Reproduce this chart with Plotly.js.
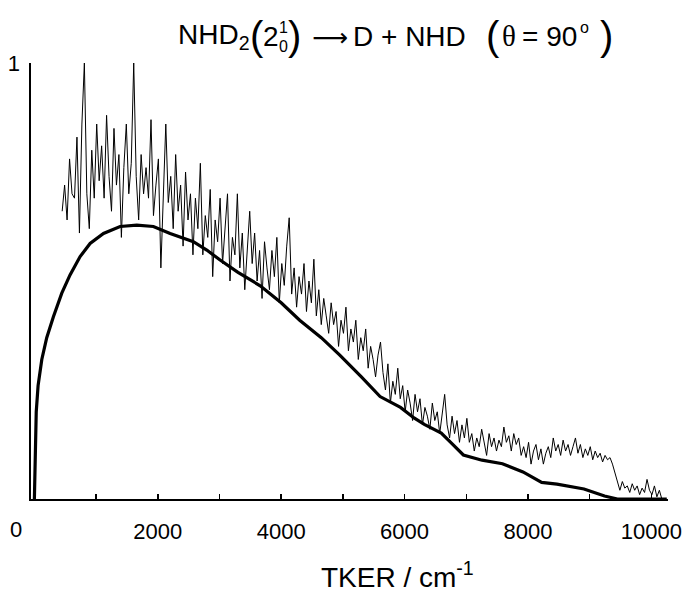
<!DOCTYPE html>
<html><head><meta charset="utf-8">
<script src="https://cdn.plot.ly/plotly-3.0.1.min.js"></script>
<style>html,body{margin:0;padding:0;background:#fff;}#chart{width:686px;height:593px;}</style>
</head><body><div id="chart"></div>
<script>
// Experimental TKER spectrum (noisy trace)
const signalEnergy = [450,490,530,570,610,650,690,730,770,810,850,890,930,970,1010,1050,1090,
1130,1170,1210,1250,1290,1330,1370,1410,1450,1490,1530,1570,1610,1650,1690,1730,1770,
1810,1850,1890,1930,1970,2010,2050,2090,2130,2170,2210,2250,2290,2330,2370,2410,2450,2490,2530,2570,2610,
2650,2690,2730,2770,2810,2850,2890,2930,2970,3010,3050,3090,3130,3170,3210,3250,3290,3330,3370,3410,3450,3490,
3530,3570,3610,3650,3690,3730,3770,3810,3850,3890,3930,3970,4010,4050,4090,4130,4170,4210,4250,4290,4330,4370,4410,4450,4490,
4530,4570,4610,4650,4690,4730,4770,4810,4850,4890,4930,4970,5010,5050,5090,5130,5170,5210,5250,5290,5330,5370,5410,5450,5490,5530,5570,5610,
5650,5690,5730,5770,5810,5850,5890,5930,5970,6010,6050,6090,6130,6170,6210,6250,6290,6330,6370,6410,6450,6490,6530,6570,6610,6650,6690,6730,6770,6810,6850,6890,6930,6970,7010,
7050,7090,7130,7170,7210,7250,7290,7330,7370,7410,7450,7490,7530,7570,7610,7650,7690,7730,7770,7810,7850,7890,7930,7970,8010,8050,8090,8130,8170,8210,8250,8290,8330,8370,8410,8450,8490,8530,8570,8610,8650,8690,8730,8770,8810,8850,8890,8930,8970,9010,9050,9090,9130,9170,9210,9250,9290,9330,9370,9410,
9450,9490,9530,9570,9610,9650,9690,9730,9770,9810,9850,9890,9930,9970,10010,10050,10090,10130,10170];
const signalValues = [0.66,0.72,0.64,0.78,0.70,0.69,0.83,0.61,0.86,1.00,0.70,0.62,0.80,0.69,0.86,0.73,0.81,
0.69,0.88,0.74,0.66,0.85,0.72,0.79,0.60,0.76,0.86,0.70,0.77,1.00,0.74,0.64,0.79,0.70,
0.76,0.69,0.87,0.65,0.72,0.78,0.53,0.70,0.86,0.68,0.74,0.62,0.79,0.66,0.72,0.58,0.75,0.64,0.70,0.56,0.69,
0.62,0.77,0.56,0.65,0.60,0.71,0.51,0.64,0.59,0.69,0.54,0.62,0.70,0.50,0.60,0.56,0.70,0.53,0.61,0.48,0.58,0.66,
0.54,0.61,0.50,0.57,0.46,0.59,0.53,0.48,0.57,0.51,0.60,0.45,0.54,0.49,0.58,0.645,0.47,0.53,0.44,0.51,0.47,0.54,0.43,0.50,0.45,
0.55,0.42,0.48,0.40,0.46,0.42,0.38,0.45,0.40,0.43,0.35,0.41,0.38,0.44,0.34,0.39,0.36,0.41,0.32,0.37,0.34,0.39,0.30,0.35,0.32,0.28,0.33,0.36,
0.29,0.25,0.31,0.22,0.27,0.24,0.30,0.23,0.26,0.20,0.25,0.22,0.18,0.24,0.20,0.23,0.17,0.21,0.19,0.16,0.22,0.18,0.20,0.15,0.19,0.24,0.17,0.14,0.19,0.15,0.18,0.13,0.17,0.14,0.185,
0.13,0.15,0.11,0.14,0.12,0.16,0.13,0.10,0.15,0.12,0.14,0.11,0.135,0.12,0.165,0.13,0.145,0.11,0.15,0.125,0.14,0.10,0.12,0.095,0.13,0.08,0.11,0.125,0.09,0.115,0.08,0.105,0.12,0.095,0.14,0.11,0.125,0.10,0.135,0.11,0.125,0.10,0.12,0.14,0.105,0.125,0.095,0.115,0.10,0.12,0.09,0.11,0.095,0.105,0.085,0.10,0.09,0.095,0.08,0.06,
0.035,0.02,0.04,0.025,0.03,0.015,0.035,0.02,0.03,0.01,0.025,0.015,0.045,0.02,0.01,0.03,0.005,0.02,0.0];

// Simulated distribution (thick smooth curve)
const fitEnergy = [0,12,30,60,120,200,308,444,578,741,903,1120,1389,1660,1929,2200,2577,2794,3010,3300,3660,4000,4300,4650,4950,5300,5603,5934,6154,6320,6595,6760,6953,7256,7587,7919,8222,8470,8909,9241,9450,10250];
const fitValues = [0,0.12,0.20,0.26,0.32,0.37,0.418,0.472,0.514,0.556,0.586,0.609,0.625,0.628,0.625,0.609,0.590,0.571,0.548,0.52,0.489,0.45,0.41,0.37,0.33,0.28,0.235,0.210,0.186,0.171,0.151,0.128,0.101,0.089,0.081,0.062,0.038,0.034,0.023,0.007,0,0];

const xTickValues = [2000,4000,6000,8000,10000];
const xTickLabels = ["2000","4000","6000","8000","10000"];
const yTickValues = [1];
const yTickLabels = ["1"];

const W = 686, H = 593, L = 31, R = 18, T = 63, B = 94;
const pxX = p => (p - L) / (W - L - R);
const pxY = p => (H - B - p) / (H - T - B);
const FONT = "Liberation Sans, Arial, sans-serif";

function ann(text, x, y, size, extra) {
  return Object.assign({text: text, xref: "paper", yref: "paper", x: pxX(x), y: pxY(y),
    xanchor: "left", yanchor: "middle", showarrow: false, borderpad: 0,
    font: {family: FONT, size: size, color: "#000"}}, extra || {});
}

const annotations = [
  ann("NHD<sub>2</sub>", 177, 36, 28),
  ann("(", 249, 36, 40),
  ann("2", 262, 36, 28),
  ann("1", 278, 27, 16),
  ann("0", 278, 46, 16),
  ann(")", 287, 36, 40),
  ann("⟶", 311, 37, 25, {font: {family: "DejaVu Sans, sans-serif", size: 25, color: "#000"}}),
  ann("D + NHD", 352, 36, 28),
  ann("(", 485, 36, 40),
  ann("θ", 501, 36, 28, {font: {family: "Liberation Serif, serif", size: 29, color: "#000"}}),
  ann("= 90", 521, 36, 28),
  ann("o", 579, 27, 16),
  ann(")", 599, 36, 40),
  ann("0", 16, 529, 22, {xanchor: "center"}),
  ann("TKER / cm<sup>-1</sup>", 397, 575, 28, {xanchor: "center"})
];

const data = [
  {x: signalEnergy, y: signalValues, type: "scatter", mode: "lines",
   line: {color: "#000", width: 1}, hoverinfo: "skip"},
  {x: fitEnergy, y: fitValues, type: "scatter", mode: "lines",
   line: {color: "#000", width: 3.2}, hoverinfo: "skip"}
];

const layout = {
  width: W, height: H,
  margin: {l: L, r: R, t: T, b: B, pad: 0},
  paper_bgcolor: "#fff", plot_bgcolor: "#fff",
  showlegend: false,
  font: {family: FONT, size: 22, color: "#000"},
  xaxis: {range: [-55, 10270], showgrid: false, zeroline: false,
    showline: true, linecolor: "#000", linewidth: 2,
    tickmode: "array", tickvals: xTickValues, ticktext: xTickLabels,
    ticks: "inside", ticklen: 5, tickwidth: 1.5, tickcolor: "#000",
    minor: {ticks: "inside", ticklen: 5, tickwidth: 1.5, tickcolor: "#000", dtick: 1000, tick0: 0, showgrid: false},
    ticklabelstandoff: 12, tickfont: {family: FONT, size: 22, color: "#000"}},
  yaxis: {range: [0, 1], showgrid: false, zeroline: false,
    showline: true, linecolor: "#000", linewidth: 2.5,
    tickmode: "array", tickvals: yTickValues, ticktext: yTickLabels,
    ticks: "inside", ticklen: 7, tickwidth: 2.5, tickcolor: "#000",
    ticklabelstandoff: 4, tickfont: {family: FONT, size: 22, color: "#000"}},
  annotations: annotations
};

Plotly.newPlot("chart", data, layout, {displayModeBar: false, staticPlot: true});
</script>
</body></html>
